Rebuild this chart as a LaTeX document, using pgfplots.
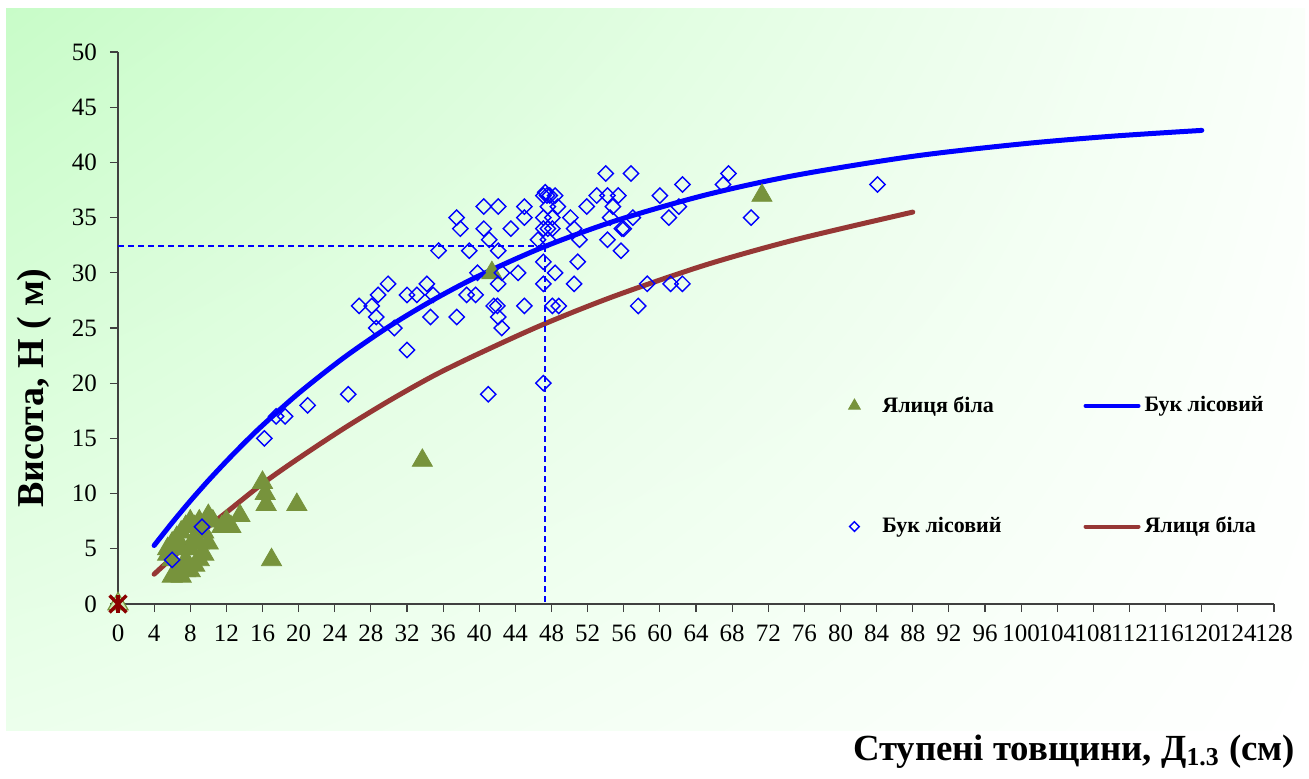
\documentclass[border=0pt]{standalone}
\usepackage{fontspec}
\setmainfont{Liberation Serif}
\usepackage{pgfplots}
\pgfplotsset{compat=1.18}
\usetikzlibrary{shadings}

\definecolor{fir}{RGB}{119,147,60}
\definecolor{firpale}{RGB}{204,236,180}
\definecolor{beech}{RGB}{0,0,255}
\definecolor{firline}{RGB}{150,55,53}
\definecolor{origred}{RGB}{139,0,0}
\definecolor{bgUL}{RGB}{200,252,200}
\definecolor{bgLL}{RGB}{236,255,236}
\definecolor{bgUR}{RGB}{250,255,250}
\definecolor{axisgray}{RGB}{64,64,64}

\pgfplotsset{
  markleg/.style={legend image code/.code={%
    \path[draw=none, fill=none] (-4pt,-3pt) rectangle (12pt,3pt);
    \draw[##1, mark size=#1] plot coordinates {(0pt,0pt)};}},
  lineleg/.style={legend image code/.code={%
    \draw[##1, line width=2pt] (0pt,0pt) -- (26.5pt,0pt);}},
}

\begin{document}
\begin{tikzpicture}
\useasboundingbox (0pt,0pt) rectangle (654.5pt,389pt);
% chart area background
\shade[upper left=bgUL, upper right=bgUR, lower left=bgLL, lower right=white]
  (3pt,24pt) rectangle (652.5pt,384.5pt);

\begin{axis}[
  at={(59pt,87pt)}, anchor=south west,
  scale only axis, width=578pt, height=276pt,
  xmin=0, xmax=128, ymin=0, ymax=50,
  xtick={0,4,...,128}, ytick={0,5,...,50},
  axis x line*=bottom, axis y line*=left,
  axis line style={-, axisgray, line width=0.6pt},
  tick style={axisgray, line width=0.6pt},
  tick align=outside, major tick length=4pt,
  minor tick num=0,
  /pgf/number format/assume math mode=true,
  /pgf/number format/1000 sep={},
  tick label style={font=\fontsize{12.5}{14}\selectfont},
  xticklabel style={yshift=-3pt},
  yticklabel style={xshift=-3pt},
  clip=false,
  ylabel={Висота, Н ( м)},
  ylabel style={at={(axis description cs:-0.072,0.391)}, anchor=center,
    font=\bfseries\fontsize{19}{22}\selectfont},
  xlabel={Ступені товщини, Д\textsubscript{1.3} (см)},
  xlabel style={at={(axis description cs:1.0242,-0.268)}, anchor=east,
    font=\bfseries\fontsize{18.4}{21}\selectfont},
  legend columns=2, transpose legend,
  legend cell align=left,
  legend style={at={(axis description cs:0.6246,0.3913)}, anchor=north west,
    draw=none, fill=none, font=\bfseries\fontsize{11}{13}\selectfont,
    row sep=47pt,
    /tikz/every even column/.append style={column sep=39pt}},
]

% Ялиця біла: measured trees
\addplot[only marks, color=fir, mark=triangle*, mark size=5.8pt,
  mark options={fill=fir, draw=fir}, markleg=3.4pt]
  coordinates {
  (6,2.5)(6.5,3)(7,2.5)(7.5,3)(8,3)(8.5,3.5)(9,4)(9.5,4.5)(10,5.5)
  (5.5,5)(6,5.5)(6.5,6)(7,6.5)(7.5,7)(8,7.5)(8.5,7)(9,7.5)(10,8)
  (10.5,7.5)(9.5,6.5)(8.5,6)(8,5)(7,5)(7.5,4)(9,5.5)(6,4)(5.5,4.5)
  (11.5,7)(12.5,7)(13.5,8)(12,7.5)
  (16,11)(16.3,10)(16.4,9)(19.8,9)(17,4)(33.7,13)(41.4,30)(71.3,37)
  };
\addlegendentry{Ялиця біла}

% Бук лісовий: measured trees
\addplot[only marks, color=beech, mark=square, mark size=2.7pt,
  mark options={rotate=45, draw=beech, fill=none, line width=0.7pt},
  markleg=1.7pt]
  coordinates {
  (6,4)(9.3,7)(16.2,15)(17.5,17)(18.5,17)(21,18)(25.5,19)
  (26.7,27)(28.1,27)(28.6,26)(28.6,25)(28.8,28)(29.9,29)(30.6,25)
  (32,23)(32,28)(33.1,28)(34.2,29)(34.9,28)(34.6,26)(35.5,32)
  (37.5,26)(37.5,35)(37.9,34)(38.6,28)(38.9,32)(39.6,28)(39.8,30)
  (40.5,36)(40.5,34)(41.1,33)(41,19)(41.6,27)(42,27)(42.1,32)(42.1,36)
  (42.1,26)(42.1,29)(42.5,25)(42.5,30)(43.5,34)(44.3,30)(45,36)(45,35)
  (45,27)(46.5,33)(47.1,37)(47.5,37)(47.3,37.3)(47.8,37)(47.1,35)
  (47.1,34)(47.1,31)(47.1,29)(47.1,20)(47.6,36)(47.6,34)(47.6,33)
  (48.4,37)(48.7,36)(48.1,35)(48.1,34)(48.4,30)(48.1,27)(48.8,27)
  (50.1,35)(50.5,34)(51.1,33)(50.9,31)(50.5,29)(51.9,36)(53,37)(54,39)
  (54.2,37)(54.2,33)(55.4,37)(54.8,36)(54.5,35)(55.7,32)(55.8,34)(56,34)
  (56.8,39)(57,35)(58.6,29)(57.6,27)(60,37)(62.5,38)(61,35)(62.1,36)
  (61.2,29)(62.5,29)(67,38)(67.6,39)(70.1,35)(84.1,38)
  };
\addlegendentry{Бук лісовий}

% height curve, beech
\addplot[beech, line width=2.5pt, line cap=round, smooth, lineleg]
  coordinates {
  (4,5.30)(6,7.37)(8,9.33)(10,11.18)(12,12.93)(14,14.60)(16,16.18)
  (20,19.09)(25,22.31)(30,25.13)(35,27.59)(40,29.74)(47,32.30)
  (55,34.69)(65,37.04)(75,38.83)(88,40.55)(100,41.67)(110,42.37)
  (120,42.90)
  };
\addlegendentry{Бук лісовий}

% height curve, fir
\addplot[firline, line width=2.5pt, line cap=round, smooth, lineleg]
  coordinates {
  (4,2.7)(6,4.2)(8,5.6)(10,7.0)(12,8.3)(16,10.9)(20,13.2)(25,15.9)
  (30,18.4)(35,20.7)(40,22.7)(47,25.3)(55,27.9)(65,30.7)(75,33.0)
  (88,35.5)
  };
\addlegendentry{Ялиця біла}

% reading of the mean height at the mean diameter
\addplot[forget plot, beech, line width=1pt, dash pattern=on 3pt off 2pt]
  coordinates {(0,32.4)(47.3,32.4)};
\addplot[forget plot, beech, line width=1pt, dash pattern=on 3pt off 2pt]
  coordinates {(47.3,32.4)(47.3,0)};

% origin marker
\addplot[forget plot, only marks, mark=triangle*, mark size=5.8pt,
  mark options={fill=firpale, draw=fir, line width=0.6pt}] coordinates {(0,0)};
\addplot[forget plot, only marks, mark=x, mark size=6pt,
  mark options={draw=origred, line width=1.6pt}] coordinates {(0,0)};
\addplot[forget plot, only marks, mark=|, mark size=4.3pt,
  mark options={draw=origred, line width=1.6pt}] coordinates {(0,0)};
\end{axis}
\end{tikzpicture}
\end{document}
